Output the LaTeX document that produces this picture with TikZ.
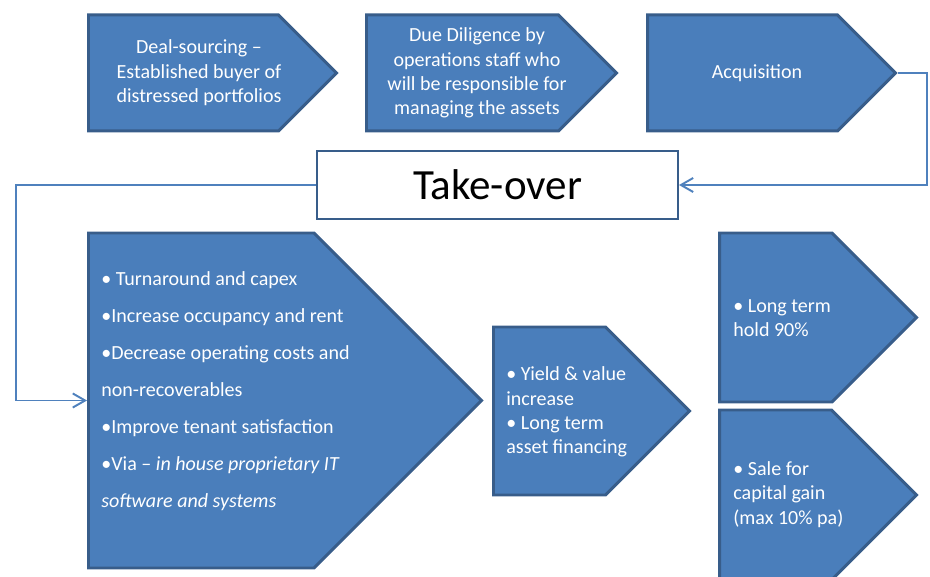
\documentclass[tikz,border=0pt]{standalone}
\usepackage{fontspec}
\setmainfont{Carlito}
\usetikzlibrary{shapes.symbols,arrows.meta}
\definecolor{chevfill}{RGB}{74,126,187}
\definecolor{chevedge}{RGB}{56,93,138}
\definecolor{linkblue}{RGB}{79,129,189}

\begin{document}
\begin{tikzpicture}[
  chevron/.style={signal, signal to=east, signal pointer angle=90, draw=chevedge, line width=1.7pt, fill=chevfill, inner sep=0pt, anchor=west},
  boxtext/.style={text=white, font=\fontsize{11.4}{13.9}\selectfont, align=center, inner sep=0pt},
  listtext/.style={text=white, font=\fontsize{11.4}{13.9}\selectfont, align=left, inner sep=0pt, anchor=west},
  takeover/.style={rectangle, draw=chevedge, line width=1.1pt, fill=white, minimum width=7.22cm, minimum height=1.36cm, font=\fontsize{24.5}{28}\selectfont},
  link/.style={draw=linkblue, line width=1.1pt, -{Straight Barb[length=7pt,width=8pt]}}
]
\useasboundingbox (0,0) rectangle (18.6,11.52);

\node[chevron, minimum width=4.96cm, minimum height=2.32cm] (deal) at (1.74,10.06) {};
\node[chevron, minimum width=5.00cm, minimum height=2.32cm] (dd) at (7.30,10.06) {};
\node[chevron, minimum width=4.96cm, minimum height=2.32cm] (acq) at (12.92,10.06) {};
\node[boxtext] (dealtxt) at (3.98,10.06) {Deal-sourcing --\\Established buyer of\\distressed portfolios};
\node[boxtext] (ddtxt) at (9.54,10.06) {Due Diligence by\\operations staff who\\will be responsible for\\managing the assets};
\node[boxtext] (acqtxt) at (15.14,10.06) {Acquisition};

\node[takeover] (take) at (9.95,7.82) {Take-over};

\node[chevron, minimum width=7.86cm, minimum height=6.70cm] (ops) at (1.74,3.51) {};
\node[listtext, font=\fontsize{11.4}{21}\selectfont] (opstxt) at (2.02,3.70) {• Turnaround and capex\\•Increase occupancy and rent\\•Decrease operating costs and\\non-recoverables\\•Improve tenant satisfaction\\•Via -- \textit{in house proprietary IT}\\\textit{software and systems}};

\node[chevron, minimum width=3.92cm, minimum height=3.36cm] (yield) at (9.84,3.30) {};
\node[listtext] (yieldtxt) at (10.12,3.28) {• Yield \& value\\increase\\• Long term\\asset financing};

\node[chevron, minimum width=3.94cm, minimum height=3.38cm] (hold) at (14.36,5.17) {};
\node[listtext] (holdtxt) at (14.66,5.16) {• Long term\\hold 90\%};
\node[chevron, minimum width=3.94cm, minimum height=3.40cm] (sale) at (14.36,1.62) {};
\node[listtext] (saletxt) at (14.66,1.63) {• Sale for\\capital gain\\(max 10\% pa)};

\draw[link] (acq.east) -- ++(0.58,0) |- (take.east);
\draw[link] (take.west) -- ++(-6.0,0) |- (ops.west);
\end{tikzpicture}
\end{document}
